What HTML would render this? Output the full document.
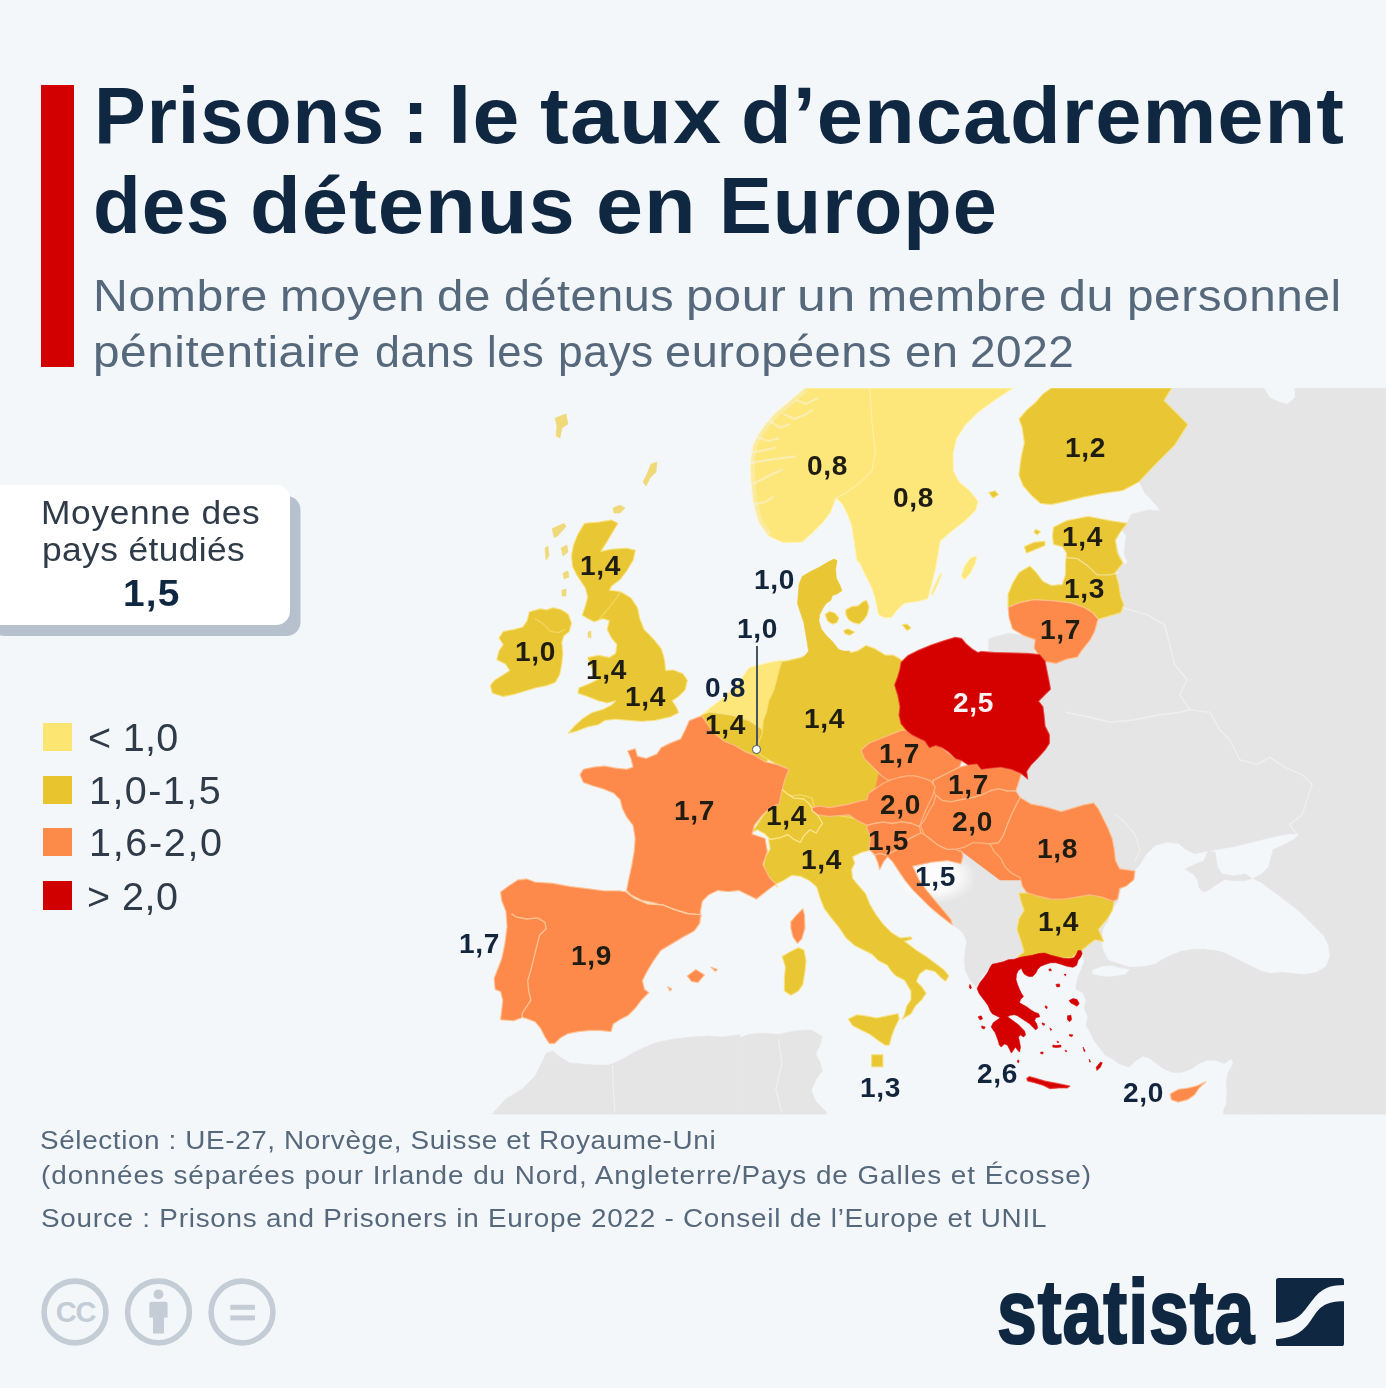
<!DOCTYPE html>
<html lang="fr">
<head>
<meta charset="utf-8">
<title>Prisons : le taux d'encadrement des détenus en Europe</title>
<style>
html,body{margin:0;padding:0;}
body{width:1386px;height:1388px;background:#f4f7fa;position:relative;overflow:hidden;font-family:"Liberation Sans",sans-serif;}
.abs{position:absolute;white-space:nowrap;transform-origin:0 0;}
#bar{position:absolute;left:41px;top:85px;width:33px;height:282px;background:#d20000;}
#map{position:absolute;left:0;top:0;width:1386px;height:1388px;filter:blur(0.55px);}
#avg{position:absolute;left:-20px;top:485px;width:310px;height:140px;background:#fff;border-radius:14px;box-shadow:10.5px 11px 0 #b7c1cd;}
.sq{position:absolute;left:43px;width:28.5px;height:28px;}
.lb{font-weight:bold;font-size:27px;line-height:27px;letter-spacing:0.6px;transform:scaleX(1.04);}
#map text{font-family:"Liberation Sans",sans-serif;font-weight:bold;font-size:26px;fill:#1c1c14;}
</style>
</head>
<body>
<svg id="map" viewBox="0 0 1386 1388">
<defs><clipPath id="mc"><rect x="0" y="388" width="1386" height="726.5"/></clipPath><radialGradient id="glow"><stop offset="0" stop-color="#fff" stop-opacity="0.95"/><stop offset="0.55" stop-color="#fff" stop-opacity="0.8"/><stop offset="1" stop-color="#fff" stop-opacity="0"/></radialGradient><linearGradient id="fade" x1="0" x2="1" y1="0" y2="0"><stop offset="0" stop-color="#f4f7fa" stop-opacity="1"/><stop offset="1" stop-color="#f4f7fa" stop-opacity="0"/></linearGradient></defs>
<g clip-path="url(#mc)">
<polygon points="1100,388 1100,470 1139.1,481.7 1144.5,492.6 1157.5,506.6 1159.7,511 1148.8,509.9 1131.5,514.2 1127.2,522.9 1118.5,531.5 1100,540 1070,640 1000,680 1000,800 1050,850 1060,930 1082.5,952.9 1084.2,961.6 1080.8,970.2 1077.3,978.9 1075.6,989.3 1082.5,992.7 1086,999.7 1084.2,1008.3 1087.7,1017 1086,1025.6 1090.3,1032.6 1094.6,1041.2 1099.8,1048.1 1105,1055.1 1111.9,1058.5 1118.9,1063.7 1129.3,1067.2 1136.2,1060.3 1143.1,1055.9 1150,1058.5 1157,1063.7 1163.9,1068.9 1172.6,1072.4 1181.2,1072.4 1191.6,1068.9 1198.5,1063.7 1207.2,1060.3 1215.8,1060.3 1224.5,1063.7 1231.4,1058.5 1233.2,1063.7 1228,1072.4 1226.2,1082.8 1227.1,1093.2 1226.2,1103.5 1223.6,1110.5 1223.6,1114.8 1386,1114.5 1386,388" fill="#e5e5e5" stroke="#e5e5e5" stroke-width="0.6" stroke-linejoin="round"/>
<polygon points="961.9,847.9 974.6,844.8 988.9,846.3 995.2,860.6 1003.2,868.6 1011.1,876.5 1020.6,881.3 1042.9,887.6 1042.9,951.1 1023.8,960.6 1011.1,958.3 1001.6,961 992.1,965.7 985.7,972.1 979.4,980 976.2,987.6 969.8,979.7 965.1,970.2 964.3,960.6 965.1,951.1 966.7,941.6 963.5,933.7 958.7,928.9 954,925.7 950.8,923.3 942.9,909.8 934.9,900.3 927,890.8 919,879.7 912.7,867 909.5,855.9 915.9,843.2 939.7,833.7 961.9,833.7" fill="#e5e5e5" stroke="#e5e5e5" stroke-width="0.6" stroke-linejoin="round"/>
<polygon points="988.7,638.7 1008.1,633.2 1023.3,635.4 1035.2,639.7 1034.1,648.4 1035.2,654.9 988.7,654.9" fill="#e5e5e5" stroke="#e5e5e5" stroke-width="0.6" stroke-linejoin="round"/>
<polygon points="491.9,1114.5 504.9,1099.7 522.3,1088.9 535.2,1075.9 541.7,1062.9 546.1,1053.2 552.6,1051 559,1056.5 569.9,1062.9 582.9,1064 595.8,1065.1 608.8,1065.1 619.7,1060.8 630.5,1054.3 643.5,1047.8 656.5,1042.4 673.8,1039.1 691.1,1037 708.4,1035.9 721.4,1037 740,1034.8 740,1114.5" fill="#e5e5e5" stroke="#e5e5e5" stroke-width="0.6" stroke-linejoin="round"/>
<polygon points="737.8,1038.6 748.7,1034.3 761.6,1033.2 779,1034.3 794.1,1031 811.4,1030 822.3,1036.5 820.1,1045.1 815.8,1053.8 820.1,1062.4 822.3,1071.1 815.8,1079.7 811.4,1090.6 815.8,1101.4 826.6,1112.2 826.6,1114.4 737.8,1114.4" fill="#e5e5e5" stroke="#e5e5e5" stroke-width="0.6" stroke-linejoin="round"/>
<polygon points="1263.5,386.5 1293.8,386.5 1294.9,397.3 1287.3,403.8 1278.6,401.6 1270,397.3" fill="#f4f7fa" stroke="#f4f7fa" stroke-width="0.6" stroke-linejoin="round"/>
<polygon points="1121.1,529.4 1125.5,535.8 1124.6,544.5 1123.3,553.2 1126.8,561.8 1124.6,564.4 1119.6,554.2 1116.4,541.3" fill="#f4f7fa" stroke="#f4f7fa" stroke-width="0.6" stroke-linejoin="round"/>
<polygon points="1139,866.9 1145.9,855.3 1155.2,846.1 1166.7,842.7 1178.2,843.8 1185.1,849.6 1194.4,854.2 1205.9,851.9 1219.7,849.6 1233.6,847.3 1247.4,843.8 1261.2,840.4 1275.1,836.9 1288.9,834.6 1298.1,834.6 1293.5,839.2 1282,845 1272.8,849.6 1270.5,857.6 1268.2,866.9 1261.2,873.8 1252,878.4 1261.2,883 1270.5,889.9 1279.7,896.8 1288.9,903.8 1298.1,910.7 1307.4,919.9 1316.6,929.1 1323.5,936 1328.1,945.3 1329.3,956.8 1325.8,966 1316.6,971.8 1305,974.1 1293.5,972.9 1282,971.8 1270.5,972.9 1261.2,970.6 1252,966 1242.8,961.4 1233.6,956.8 1224.3,952.2 1215.1,949.9 1203.6,948.7 1192.1,948.7 1180.5,951 1171.3,954.5 1162.1,959.1 1155.2,963.7 1143.6,966 1129.8,966.7 1119,963.2 1108.6,959.8 1103.3,949.9 1102.1,942.5 1103.3,929.1 1109.1,919.9 1111.4,910.7 1118.3,901.5 1120.6,892.2 1125.2,880.7 1135.6,876.1 1135.6,869.2" fill="#f4f7fa" stroke="#f4f7fa" stroke-width="0.6" stroke-linejoin="round"/>
<polygon points="1092.9,970.2 1101.6,966.8 1111.9,965.9 1120.6,968.5 1129.3,969.4 1125.8,973.7 1117.1,975.4 1108.5,976.3 1099.8,975.4 1092.9,973.7" fill="#f4f7fa" stroke="#f4f7fa" stroke-width="0.6" stroke-linejoin="round"/>
<polygon points="1185.1,869.2 1194.4,864.6 1203.6,861.1 1208.2,850.7 1215.1,851.9 1217.4,866.9 1222,873.8 1233.6,876.1 1245.1,873.8 1252,878.4 1245.1,880.7 1233.6,880.7 1224.3,879.5 1217.4,884.2 1210.5,888.8 1203.6,892.2 1199,887.6 1197.8,880.7 1194.4,874.9" fill="#e5e5e5" stroke="#e5e5e5" stroke-width="0.6" stroke-linejoin="round"/>
<polygon points="770,720 860,700 900,760 870,810 860,850 800,870 775,850 765,810 775,770" fill="#e9c634" stroke="#e9c634" stroke-width="0.6" stroke-linejoin="round"/>
<ellipse cx="936" cy="877" rx="40" ry="27" fill="url(#glow)"/>
<polygon points="804.9,388 795.2,396.2 786.5,403.8 775.7,412.5 766,423.3 758.4,434.1 753,444.9 750.8,457.9 750.4,470.9 751.3,486.1 753,501.2 756.2,514.2 759.5,523.9 768.1,535.8 783.3,542.8 798.4,542.3 802.3,542.1 812.5,533 822.9,522.6 830.7,512.3 835.9,498 842.4,504.5 847.6,514.8 851.5,525.2 854.1,542.1 856.7,560.1 860.1,564 865.5,575.9 870.3,584.5 874.6,596.5 876.8,607.3 878.5,614.8 883.9,617.7 891.5,617.7 896.9,610.5 904.5,603.4 919.7,601.2 927.9,598.6 930.5,588.9 933.3,578.1 936.1,566.1 938.3,553.2 940.4,541.3 951,531.9 965.1,521.1 975.9,510.3 978.1,501.2 969.9,490.8 959,481.7 953.6,470.9 953.2,453.6 956.5,438.9 965.1,425.5 978.1,412.5 995.4,399.9 1013.2,388" fill="#fde67a" stroke="#fde67a" stroke-width="0.6" stroke-linejoin="round"/>
<polygon points="804.9,388 795.2,396.2 786.5,403.8 775.7,412.5 766,423.3 758.4,434.1 753,444.9 750.8,457.9 750.4,470.9 751.3,486.1 753,501.2 756.2,514.2 759.5,523.9 768.1,535.8 783.3,542.8 798.4,542.3 802.3,542.1 812.5,533 822.9,522.6 830.7,512.3 835.9,498 842.4,504.5 847.6,514.8 851.5,525.2 854.1,542.1 856.7,560.1 860.1,564 865.5,575.9 870.3,584.5 874.6,596.5 876.8,607.3 878.5,614.8 883.9,617.7 891.5,617.7 896.9,610.5 904.5,603.4 919.7,601.2 927.9,598.6 930.5,588.9 933.3,578.1 936.1,566.1 938.3,553.2 940.4,541.3 951,531.9 965.1,521.1 975.9,510.3 978.1,501.2 969.9,490.8 959,481.7 953.6,470.9 953.2,453.6 956.5,438.9 965.1,425.5 978.1,412.5 995.4,399.9 1013.2,388" fill="none" stroke="rgba(255,250,215,0.55)" stroke-width="1.3" stroke-linejoin="round"/>
<polygon points="961,576.5 964.1,567 970.5,557.5 976.8,555.9 975.2,563.8 970.5,573.3 964.9,579.7" fill="#fde67a" stroke="#fde67a" stroke-width="0.6" stroke-linejoin="round"/>
<polygon points="961,576.5 964.1,567 970.5,557.5 976.8,555.9 975.2,563.8 970.5,573.3 964.9,579.7" fill="none" stroke="rgba(255,250,215,0.55)" stroke-width="1.3" stroke-linejoin="round"/>
<polygon points="930.8,594 935.6,582.9 940.3,573.3 941.9,574.1 937.1,586 932.4,595.6" fill="#fde67a" stroke="#fde67a" stroke-width="0.6" stroke-linejoin="round"/>
<polygon points="930.8,594 935.6,582.9 940.3,573.3 941.9,574.1 937.1,586 932.4,595.6" fill="none" stroke="rgba(255,250,215,0.55)" stroke-width="1.3" stroke-linejoin="round"/>
<polygon points="703.1,713.6 711.7,706.4 723.3,697.7 737.7,683.3 746.4,671 749.3,667.4 760.8,664.5 772.4,661.6 783.9,660.2 783.9,683.3 773.8,700.6 766.6,715 766.6,732.4 758.6,732.4 757.9,726.6 749.3,720.8 740.6,717.9 730.5,715 720.4,713.6 708.9,712.2" fill="#fde67a" stroke="#fde67a" stroke-width="0.6" stroke-linejoin="round"/>
<polygon points="703.1,713.6 711.7,706.4 723.3,697.7 737.7,683.3 746.4,671 749.3,667.4 760.8,664.5 772.4,661.6 783.9,660.2 783.9,683.3 773.8,700.6 766.6,715 766.6,732.4 758.6,732.4 757.9,726.6 749.3,720.8 740.6,717.9 730.5,715 720.4,713.6 708.9,712.2" fill="none" stroke="rgba(255,250,215,0.55)" stroke-width="1.3" stroke-linejoin="round"/>
<polygon points="701.6,715 708.9,712.2 720.4,713.6 730.5,715 740.6,717.9 749.3,720.8 757.9,726.6 766.6,732.4 769.5,755.4 766.6,762.7 755,759.8 737.7,752.6 723.3,743.9 708.9,732.4 703.1,722.3" fill="#e9c634" stroke="#e9c634" stroke-width="0.6" stroke-linejoin="round"/>
<polygon points="701.6,715 708.9,712.2 720.4,713.6 730.5,715 740.6,717.9 749.3,720.8 757.9,726.6 766.6,732.4 769.5,755.4 766.6,762.7 755,759.8 737.7,752.6 723.3,743.9 708.9,732.4 703.1,722.3" fill="none" stroke="rgba(255,240,160,0.5)" stroke-width="1.3" stroke-linejoin="round"/>
<polygon points="809.9,653.1 801.2,657.4 788.2,660.6 781.7,661.7 779.6,668.2 777.4,676.9 775.2,685.5 773.1,692 768.7,700.7 766.6,711.5 763.3,720.2 762.3,733.2 757.9,744 760.1,754.8 770.9,761.3 786.1,767.8 781.7,778.6 779.6,789.4 778.5,798.1 788.2,795.9 801.2,794.8 812,798.1 814.2,806.8 827.2,808.9 840.2,806.8 853.2,808.9 874.8,811.1 896.5,776.5 907.3,733.2 907.3,663.9 897.5,657.4 893.2,655.2 885.6,655.2 874.8,648.7 866.1,645.5 857.5,650.9 848.8,653.1 842.3,655.2 840.2,650.9" fill="#e9c634" stroke="#e9c634" stroke-width="0.6" stroke-linejoin="round"/>
<polygon points="809.9,653.1 801.2,657.4 788.2,660.6 781.7,661.7 779.6,668.2 777.4,676.9 775.2,685.5 773.1,692 768.7,700.7 766.6,711.5 763.3,720.2 762.3,733.2 757.9,744 760.1,754.8 770.9,761.3 786.1,767.8 781.7,778.6 779.6,789.4 778.5,798.1 788.2,795.9 801.2,794.8 812,798.1 814.2,806.8 827.2,808.9 840.2,806.8 853.2,808.9 874.8,811.1 896.5,776.5 907.3,733.2 907.3,663.9 897.5,657.4 893.2,655.2 885.6,655.2 874.8,648.7 866.1,645.5 857.5,650.9 848.8,653.1 842.3,655.2 840.2,650.9" fill="none" stroke="rgba(255,240,160,0.5)" stroke-width="1.3" stroke-linejoin="round"/>
<polygon points="869.4,848.9 871.7,831.4 867,820.3 819.4,812.4 787.6,823.5 768.6,839.4 770.2,848.9 765.4,856.8 763.8,864.8 766.2,874.3 771.7,882.2 777.3,887 775.9,884.1 783.3,880.6 791.9,875.2 800.6,876.3 809.3,880.6 816.8,887.1 820.1,897.9 824.4,908.7 830.9,917.4 839.6,928.2 846.1,938 854.7,945.5 863.4,949.9 872,954.2 878.5,960.7 887.2,965 891.5,971.5 895.8,975.8 904.5,980.2 911,991 911,999.7 906.7,1006.1 904.5,1014.8 902.3,1019.1 911,1013.7 915.3,1006.1 921.8,999.7 926.1,993.2 921.8,986.7 916.4,981.3 919.7,973.7 926.1,969.4 934.8,971.5 941.3,978 945.6,981.3 948.9,975.8 943.5,969.4 934.8,962.9 926.1,956.4 917.5,951 908.8,944.5 904.5,941.2 912.1,939 911,936.9 900.2,938 891.5,932.6 882.9,923.9 876.4,915.2 869.9,904.4 865.5,893.6 858,884.9 852.6,878.4 851.5,869.8 854.7,863.3 852.6,856.8 861.2,852.5 869.9,850.3" fill="#e9c634" stroke="#e9c634" stroke-width="0.6" stroke-linejoin="round"/>
<polygon points="869.4,848.9 871.7,831.4 867,820.3 819.4,812.4 787.6,823.5 768.6,839.4 770.2,848.9 765.4,856.8 763.8,864.8 766.2,874.3 771.7,882.2 777.3,887 775.9,884.1 783.3,880.6 791.9,875.2 800.6,876.3 809.3,880.6 816.8,887.1 820.1,897.9 824.4,908.7 830.9,917.4 839.6,928.2 846.1,938 854.7,945.5 863.4,949.9 872,954.2 878.5,960.7 887.2,965 891.5,971.5 895.8,975.8 904.5,980.2 911,991 911,999.7 906.7,1006.1 904.5,1014.8 902.3,1019.1 911,1013.7 915.3,1006.1 921.8,999.7 926.1,993.2 921.8,986.7 916.4,981.3 919.7,973.7 926.1,969.4 934.8,971.5 941.3,978 945.6,981.3 948.9,975.8 943.5,969.4 934.8,962.9 926.1,956.4 917.5,951 908.8,944.5 904.5,941.2 912.1,939 911,936.9 900.2,938 891.5,932.6 882.9,923.9 876.4,915.2 869.9,904.4 865.5,893.6 858,884.9 852.6,878.4 851.5,869.8 854.7,863.3 852.6,856.8 861.2,852.5 869.9,850.3" fill="none" stroke="rgba(255,240,160,0.5)" stroke-width="1.3" stroke-linejoin="round"/>
<polygon points="1051.4,388 1171.6,388 1164,400.6 1187.8,424.4 1174.8,444.9 1153.2,466.6 1139.1,481.7 1122.9,490.4 1101.2,493.6 1083.9,496.9 1066.6,501.2 1051.4,504.5 1040.6,503.4 1031.9,495.8 1023.3,486.1 1019,475.2 1021.1,457.9 1024.4,442.8 1022.2,427.6 1019,419 1026.5,410.3 1035.2,402.7 1042.8,394.1" fill="#e9c634" stroke="#e9c634" stroke-width="0.6" stroke-linejoin="round"/>
<polygon points="1051.4,388 1171.6,388 1164,400.6 1187.8,424.4 1174.8,444.9 1153.2,466.6 1139.1,481.7 1122.9,490.4 1101.2,493.6 1083.9,496.9 1066.6,501.2 1051.4,504.5 1040.6,503.4 1031.9,495.8 1023.3,486.1 1019,475.2 1021.1,457.9 1024.4,442.8 1022.2,427.6 1019,419 1026.5,410.3 1035.2,402.7 1042.8,394.1" fill="none" stroke="rgba(255,240,160,0.5)" stroke-width="1.3" stroke-linejoin="round"/>
<polygon points="988.7,492.6 995.2,490.8 998.4,494.7 993,498" fill="#e9c634" stroke="#e9c634" stroke-width="0.6" stroke-linejoin="round"/>
<polygon points="988.7,492.6 995.2,490.8 998.4,494.7 993,498" fill="none" stroke="rgba(255,240,160,0.5)" stroke-width="1.3" stroke-linejoin="round"/>
<polygon points="1053.6,527.2 1066.6,520.7 1088.2,516.4 1109.9,520.7 1127.2,523.3 1120.7,531.5 1115.3,540.2 1117.4,553.2 1122.9,562.9 1115.3,572.6 1118.5,583.5 1120.7,596.5 1123.9,605.1 1120.7,612.7 1109.9,615.9 1098,619.2 1092.6,612.7 1083.9,607.3 1070.9,602.9 1053.6,600.8 1034.1,599.7 1019,602.9 1008.1,607.3 1008.1,594.3 1012.5,583.5 1019,572.6 1029.8,566.1 1036.3,572.6 1042.8,581.3 1051.4,585.6 1062.3,584.5 1065.5,574.8 1065.5,564 1066.6,553.2 1062.3,546.7 1053.6,544.5 1052.5,535.8" fill="#e9c634" stroke="#e9c634" stroke-width="0.6" stroke-linejoin="round"/>
<polygon points="1053.6,527.2 1066.6,520.7 1088.2,516.4 1109.9,520.7 1127.2,523.3 1120.7,531.5 1115.3,540.2 1117.4,553.2 1122.9,562.9 1115.3,572.6 1118.5,583.5 1120.7,596.5 1123.9,605.1 1120.7,612.7 1109.9,615.9 1098,619.2 1092.6,612.7 1083.9,607.3 1070.9,602.9 1053.6,600.8 1034.1,599.7 1019,602.9 1008.1,607.3 1008.1,594.3 1012.5,583.5 1019,572.6 1029.8,566.1 1036.3,572.6 1042.8,581.3 1051.4,585.6 1062.3,584.5 1065.5,574.8 1065.5,564 1066.6,553.2 1062.3,546.7 1053.6,544.5 1052.5,535.8" fill="none" stroke="rgba(255,240,160,0.5)" stroke-width="1.3" stroke-linejoin="round"/>
<polygon points="1024.4,546.7 1034.1,542.3 1044.9,541.3 1044.9,545.6 1034.1,549.9 1026.5,553.2" fill="#e9c634" stroke="#e9c634" stroke-width="0.6" stroke-linejoin="round"/>
<polygon points="1024.4,546.7 1034.1,542.3 1044.9,541.3 1044.9,545.6 1034.1,549.9 1026.5,553.2" fill="none" stroke="rgba(255,240,160,0.5)" stroke-width="1.3" stroke-linejoin="round"/>
<polygon points="1035.2,529.4 1040.6,531.5 1037.4,534.8 1034.1,532.6" fill="#e9c634" stroke="#e9c634" stroke-width="0.6" stroke-linejoin="round"/>
<polygon points="1035.2,529.4 1040.6,531.5 1037.4,534.8 1034.1,532.6" fill="none" stroke="rgba(255,240,160,0.5)" stroke-width="1.3" stroke-linejoin="round"/>
<polygon points="584.5,523.3 598.5,522.2 611.5,520 618,523.3 611.5,534.1 605,544.9 600.7,551.4 611.5,549.3 626.7,548.2 635.3,550.3 633.2,560.1 626.7,570.9 620.2,579.6 611.5,586.1 609.4,590.4 620.2,591.5 631,598 637.5,607.7 639.7,618.5 644,629.4 652.6,638 661.3,648.8 664.5,659.7 665.6,670.5 673.2,670 682.9,673.7 687.3,680.2 685.1,690 678.6,696.5 672.1,700.8 676.5,707.3 678.6,712.7 670,717 654.8,720.3 641.8,721.3 628.8,720.3 615.8,719.2 605,720.3 598.5,724.6 587.7,726.8 576.9,731.1 568.2,733.2 574.7,725.7 583.4,718.1 592,712.7 602.9,709.4 611.5,705.1 615.8,700.8 607.2,702.9 598.5,700.8 587.7,696.5 578,693.2 579,687.8 589.9,683.5 598.5,679.1 594.2,672.6 589.9,664 587.7,657.5 598.5,655.3 609.4,657.5 615.8,653.2 616.9,644.5 611.5,638 607.2,629.4 609.4,620.7 602.9,618.5 594.2,621.8 587.7,618.5 582.3,615.3 585.5,605.5 587.7,596.9 585.5,588.2 581.2,581.7 576.9,575.2 572.6,566.6 571.5,555.8 573.6,544.9 578,534.1" fill="#e9c634" stroke="#e9c634" stroke-width="0.6" stroke-linejoin="round"/>
<polygon points="584.5,523.3 598.5,522.2 611.5,520 618,523.3 611.5,534.1 605,544.9 600.7,551.4 611.5,549.3 626.7,548.2 635.3,550.3 633.2,560.1 626.7,570.9 620.2,579.6 611.5,586.1 609.4,590.4 620.2,591.5 631,598 637.5,607.7 639.7,618.5 644,629.4 652.6,638 661.3,648.8 664.5,659.7 665.6,670.5 673.2,670 682.9,673.7 687.3,680.2 685.1,690 678.6,696.5 672.1,700.8 676.5,707.3 678.6,712.7 670,717 654.8,720.3 641.8,721.3 628.8,720.3 615.8,719.2 605,720.3 598.5,724.6 587.7,726.8 576.9,731.1 568.2,733.2 574.7,725.7 583.4,718.1 592,712.7 602.9,709.4 611.5,705.1 615.8,700.8 607.2,702.9 598.5,700.8 587.7,696.5 578,693.2 579,687.8 589.9,683.5 598.5,679.1 594.2,672.6 589.9,664 587.7,657.5 598.5,655.3 609.4,657.5 615.8,653.2 616.9,644.5 611.5,638 607.2,629.4 609.4,620.7 602.9,618.5 594.2,621.8 587.7,618.5 582.3,615.3 585.5,605.5 587.7,596.9 585.5,588.2 581.2,581.7 576.9,575.2 572.6,566.6 571.5,555.8 573.6,544.9 578,534.1" fill="none" stroke="rgba(255,240,160,0.5)" stroke-width="1.3" stroke-linejoin="round"/>
<polygon points="529.3,612 540.1,608.8 546.6,609.9 553.1,607.7 561.7,609.9 568.2,614.2 571.5,622.9 569.3,631.5 563.9,635.8 561.7,642.3 562.8,653.2 561.7,664 559.6,674.8 555.2,682.4 546.6,685.6 535.8,687.8 524.9,691 514.1,694.3 503.3,696.5 492.5,693.2 490.3,685.6 494.6,680.2 503.3,674.8 509.8,670.5 505.5,664 496.8,659.7 499,651 503.3,644.5 499,638 503.3,631.5 514.1,629.4 522.8,627.2 527.1,620.7" fill="#e9c634" stroke="#e9c634" stroke-width="0.6" stroke-linejoin="round"/>
<polygon points="529.3,612 540.1,608.8 546.6,609.9 553.1,607.7 561.7,609.9 568.2,614.2 571.5,622.9 569.3,631.5 563.9,635.8 561.7,642.3 562.8,653.2 561.7,664 559.6,674.8 555.2,682.4 546.6,685.6 535.8,687.8 524.9,691 514.1,694.3 503.3,696.5 492.5,693.2 490.3,685.6 494.6,680.2 503.3,674.8 509.8,670.5 505.5,664 496.8,659.7 499,651 503.3,644.5 499,638 503.3,631.5 514.1,629.4 522.8,627.2 527.1,620.7" fill="none" stroke="rgba(255,240,160,0.5)" stroke-width="1.3" stroke-linejoin="round"/>
<polygon points="552,528.7 563.9,523.3 566.1,526.5 557.4,536.3 554.2,537.4" fill="#efd978" stroke="#efd978" stroke-width="0.6" stroke-linejoin="round"/>
<polygon points="555,418 566,414 568,424 562,428 560,438 556,436 557,426" fill="#efd978" stroke="#efd978" stroke-width="0.6" stroke-linejoin="round"/>
<polygon points="651,464 657,462 656,472 650,478 646,486 643,482 647,474" fill="#efd978" stroke="#efd978" stroke-width="0.6" stroke-linejoin="round"/>
<polygon points="613,508 620,505 625,508 620,513 614,513" fill="#efd978" stroke="#efd978" stroke-width="0.6" stroke-linejoin="round"/>
<polygon points="545,548 548,546 549,556 546,560" fill="#efd978" stroke="#efd978" stroke-width="0.6" stroke-linejoin="round"/>
<polygon points="561,548 567,545 568,552 563,556" fill="#efd978" stroke="#efd978" stroke-width="0.6" stroke-linejoin="round"/>
<polygon points="563,573 568,571 569,577 564,579" fill="#efd978" stroke="#efd978" stroke-width="0.6" stroke-linejoin="round"/>
<polygon points="562,590 566,589 566,596 562,596" fill="#efd978" stroke="#efd978" stroke-width="0.6" stroke-linejoin="round"/>
<polygon points="588,632 591,631 591,638 588,637" fill="#efd978" stroke="#efd978" stroke-width="0.6" stroke-linejoin="round"/>
<polygon points="827.6,562.2 834,559 837.1,560.6 835.6,568.6 836.3,578.1 840.3,586 841.9,590.8 837.1,594 832.4,595.6 830.8,600.3 826,603.5 822.9,608.3 819.7,614.6 818.9,621 821.3,628.9 826,635.2 832.4,641.6 838.7,649.5 843.5,651.1 849.8,651.1 849.8,660.6 803.8,660.6 803.8,657.5 808.6,651.1 807,641.6 805.4,632.1 803.8,622.5 800.6,613 797.5,603.5 798.3,594 799,584.4 802.2,576.5 810.2,571.7 819.7,567" fill="#e9c634" stroke="#e9c634" stroke-width="0.6" stroke-linejoin="round"/>
<polygon points="825.2,614.6 829.2,611.4 834.8,613 838.7,617.8 837.1,622.5 832.4,624.1 827.6,621" fill="#e9c634" stroke="#e9c634" stroke-width="0.6" stroke-linejoin="round"/>
<polygon points="825.2,614.6 829.2,611.4 834.8,613 838.7,617.8 837.1,622.5 832.4,624.1 827.6,621" fill="none" stroke="rgba(255,240,160,0.5)" stroke-width="1.3" stroke-linejoin="round"/>
<polygon points="845.9,609.8 851.4,606.7 857.8,605.9 862.5,601.9 866.5,600.3 868.9,606.7 867.3,614.6 864.1,619.4 859.4,624.1 853,622.5 848.3,619.4 845.9,614.6" fill="#e9c634" stroke="#e9c634" stroke-width="0.6" stroke-linejoin="round"/>
<polygon points="845.9,609.8 851.4,606.7 857.8,605.9 862.5,601.9 866.5,600.3 868.9,606.7 867.3,614.6 864.1,619.4 859.4,624.1 853,622.5 848.3,619.4 845.9,614.6" fill="none" stroke="rgba(255,240,160,0.5)" stroke-width="1.3" stroke-linejoin="round"/>
<polygon points="843.5,630.5 848.3,628.9 854.6,632.1 849.8,635.2 845.1,633.7" fill="#e9c634" stroke="#e9c634" stroke-width="0.6" stroke-linejoin="round"/>
<polygon points="843.5,630.5 848.3,628.9 854.6,632.1 849.8,635.2 845.1,633.7" fill="none" stroke="rgba(255,240,160,0.5)" stroke-width="1.3" stroke-linejoin="round"/>
<polygon points="902.2,624.9 907,624.1 911,628.1 907,630.5" fill="#e9c634" stroke="#e9c634" stroke-width="0.6" stroke-linejoin="round"/>
<polygon points="902.2,624.9 907,624.1 911,628.1 907,630.5" fill="none" stroke="rgba(255,240,160,0.5)" stroke-width="1.3" stroke-linejoin="round"/>
<polygon points="751.9,832.2 755.9,826.7 762.2,817.1 770.2,807.6 778.1,798.1 782.1,789.4 787.6,794.1 794,798.1 803.5,798.9 808.3,802.9 812.2,807.6 812.2,810.8 817.8,815.2 822.5,823.5 819.4,827.5 816.2,833 809.8,829.8 803.5,836.2 800.3,842.5 794,839.4 787.6,834.6 779.7,837.8 770.2,839.4 763.8,833.3 757.5,829.8" fill="#e9c634" stroke="#e9c634" stroke-width="0.6" stroke-linejoin="round"/>
<polygon points="751.9,832.2 755.9,826.7 762.2,817.1 770.2,807.6 778.1,798.1 782.1,789.4 787.6,794.1 794,798.1 803.5,798.9 808.3,802.9 812.2,807.6 812.2,810.8 817.8,815.2 822.5,823.5 819.4,827.5 816.2,833 809.8,829.8 803.5,836.2 800.3,842.5 794,839.4 787.6,834.6 779.7,837.8 770.2,839.4 763.8,833.3 757.5,829.8" fill="none" stroke="rgba(255,240,160,0.5)" stroke-width="1.3" stroke-linejoin="round"/>
<polygon points="848.2,1019.1 856.9,1014.8 865.5,1015.9 876.4,1018.1 887.2,1015.9 898,1013.7 899.1,1019.1 894.8,1027.8 891.5,1036.5 889.4,1045.1 885,1045.1 878.5,1040.8 869.9,1034.3 861.2,1030 852.6,1025.6" fill="#e9c634" stroke="#e9c634" stroke-width="0.6" stroke-linejoin="round"/>
<polygon points="848.2,1019.1 856.9,1014.8 865.5,1015.9 876.4,1018.1 887.2,1015.9 898,1013.7 899.1,1019.1 894.8,1027.8 891.5,1036.5 889.4,1045.1 885,1045.1 878.5,1040.8 869.9,1034.3 861.2,1030 852.6,1025.6" fill="none" stroke="rgba(255,240,160,0.5)" stroke-width="1.3" stroke-linejoin="round"/>
<polygon points="871.6,1054.8 882.9,1054.8 882.9,1066.8 871.6,1066.8" fill="#e9c634" stroke="#e9c634" stroke-width="0.6" stroke-linejoin="round"/>
<polygon points="871.6,1054.8 882.9,1054.8 882.9,1066.8 871.6,1066.8" fill="none" stroke="rgba(255,240,160,0.5)" stroke-width="1.3" stroke-linejoin="round"/>
<polygon points="782.2,956.4 789.8,952 798.4,947.7 803.9,949.9 806,960.7 804.9,971.5 802.8,984.5 798.4,991 790.9,995.3 784.4,991 784.4,978 785.5,967.2" fill="#e9c634" stroke="#e9c634" stroke-width="0.6" stroke-linejoin="round"/>
<polygon points="782.2,956.4 789.8,952 798.4,947.7 803.9,949.9 806,960.7 804.9,971.5 802.8,984.5 798.4,991 790.9,995.3 784.4,991 784.4,978 785.5,967.2" fill="none" stroke="rgba(255,240,160,0.5)" stroke-width="1.3" stroke-linejoin="round"/>
<polygon points="1018.9,893.1 1115.8,893.1 1112.4,910.4 1107.2,919 1098.5,929.4 1103.7,941.6 1095.1,939.8 1088.1,945 1081.2,951.1 1070.8,958 1017.1,957.1 1024.1,951.9 1020.6,939.8 1017.1,929.4 1018.9,919 1024.1,910.4 1020.6,900" fill="#e9c634" stroke="#e9c634" stroke-width="0.6" stroke-linejoin="round"/>
<polygon points="1018.9,893.1 1115.8,893.1 1112.4,910.4 1107.2,919 1098.5,929.4 1103.7,941.6 1095.1,939.8 1088.1,945 1081.2,951.1 1070.8,958 1017.1,957.1 1024.1,951.9 1020.6,939.8 1017.1,929.4 1018.9,919 1024.1,910.4 1020.6,900" fill="none" stroke="rgba(255,240,160,0.5)" stroke-width="1.3" stroke-linejoin="round"/>
<polygon points="880,770 930,760 990,775 1010,800 1030,830 1060,830 1060,880 1000,880 960,850 930,850 890,840 870,815 875,790" fill="#fd8a4a" stroke="#fd8a4a" stroke-width="0.6" stroke-linejoin="round"/>
<polygon points="689.4,720.6 701.7,715.8 713.2,732.5 724,741.1 734.8,745.5 745.6,751.9 754.3,755.2 765.1,761.7 778.1,764.9 788.9,769.3 784.6,780.1 781.3,793.1 779.2,803.9 769.4,808.2 760.8,816.9 754.3,825.5 752.1,834.2 765.1,838.5 767.3,851.5 762.9,864.5 769.4,877.5 775.9,884 767.3,890.5 756.5,899.1 747.8,894.8 739.1,890.5 728.3,891.6 717.5,890.5 708.8,894.8 702.3,901.3 700.2,912.1 701.3,916.5 691.5,914.3 680.7,911 669.9,907.8 656.9,903.5 641.7,900.2 630.9,894.8 626.6,890.5 628.7,879.7 632,864.5 634.2,851.5 635.2,838.5 633.1,825.5 626.6,816.9 622.3,808.2 620.1,799.6 613.6,793.1 602.8,788.7 591.9,785.5 583.3,782.3 580,774.7 583.3,769.3 594.1,767.1 604.9,766 615.8,768.2 626.6,769.3 633.1,767.1 630.9,758.4 627.7,750.9 635.2,748.7 637.4,756.3 646.1,758.4 656.9,754.1 661.2,747.6 669.9,743.3 680.7,739 685,730.3" fill="#fd8a4a" stroke="#fd8a4a" stroke-width="0.6" stroke-linejoin="round"/>
<polygon points="689.4,720.6 701.7,715.8 713.2,732.5 724,741.1 734.8,745.5 745.6,751.9 754.3,755.2 765.1,761.7 778.1,764.9 788.9,769.3 784.6,780.1 781.3,793.1 779.2,803.9 769.4,808.2 760.8,816.9 754.3,825.5 752.1,834.2 765.1,838.5 767.3,851.5 762.9,864.5 769.4,877.5 775.9,884 767.3,890.5 756.5,899.1 747.8,894.8 739.1,890.5 728.3,891.6 717.5,890.5 708.8,894.8 702.3,901.3 700.2,912.1 701.3,916.5 691.5,914.3 680.7,911 669.9,907.8 656.9,903.5 641.7,900.2 630.9,894.8 626.6,890.5 628.7,879.7 632,864.5 634.2,851.5 635.2,838.5 633.1,825.5 626.6,816.9 622.3,808.2 620.1,799.6 613.6,793.1 602.8,788.7 591.9,785.5 583.3,782.3 580,774.7 583.3,769.3 594.1,767.1 604.9,766 615.8,768.2 626.6,769.3 633.1,767.1 630.9,758.4 627.7,750.9 635.2,748.7 637.4,756.3 646.1,758.4 656.9,754.1 661.2,747.6 669.9,743.3 680.7,739 685,730.3" fill="none" stroke="rgba(255,215,175,0.55)" stroke-width="1.3" stroke-linejoin="round"/>
<polygon points="790.9,921.7 796.3,915.2 802.8,908.7 804.5,915.2 804.9,928.2 801.7,939 797.4,943.4 793,936.9 790.9,928.2" fill="#fd8a4a" stroke="#fd8a4a" stroke-width="0.6" stroke-linejoin="round"/>
<polygon points="790.9,921.7 796.3,915.2 802.8,908.7 804.5,915.2 804.9,928.2 801.7,939 797.4,943.4 793,936.9 790.9,928.2" fill="none" stroke="rgba(255,215,175,0.55)" stroke-width="1.3" stroke-linejoin="round"/>
<polygon points="500.6,891.9 509.3,885.5 517.9,880 526.6,879 535.2,882.2 552.6,883.3 569.9,886.5 587.2,888.7 604.5,890.9 619.7,890.9 626.1,891.9 634.8,898.4 647.8,903.9 662.9,904.9 673.8,909.3 686.8,913.6 700.8,914.7 699.7,923.3 694.3,930.9 682.4,937.4 671.6,943.9 660.8,950.4 653.2,961.2 646.7,972 642.4,980.7 644.5,989.4 648.9,992.6 641.3,1000.2 634.8,1008.8 628.3,1015.3 619.7,1019.7 613.2,1024 611,1031.6 600.2,1030.5 589.4,1030.5 578.5,1031.6 567.7,1033.7 560.1,1038.1 554.7,1043.5 549.3,1043.5 545,1037 540.6,1028.3 535.2,1021.8 526.6,1018.6 522.3,1017.5 513.6,1020.7 500.6,1019.7 501.7,1011 502.8,1000.2 500.6,991.5 495.2,989.4 494.1,978.5 497.4,969.9 501.7,959 504.9,943.9 507.1,926.6 506,911.4 501.7,900.6" fill="#fd8a4a" stroke="#fd8a4a" stroke-width="0.6" stroke-linejoin="round"/>
<polygon points="500.6,891.9 509.3,885.5 517.9,880 526.6,879 535.2,882.2 552.6,883.3 569.9,886.5 587.2,888.7 604.5,890.9 619.7,890.9 626.1,891.9 634.8,898.4 647.8,903.9 662.9,904.9 673.8,909.3 686.8,913.6 700.8,914.7 699.7,923.3 694.3,930.9 682.4,937.4 671.6,943.9 660.8,950.4 653.2,961.2 646.7,972 642.4,980.7 644.5,989.4 648.9,992.6 641.3,1000.2 634.8,1008.8 628.3,1015.3 619.7,1019.7 613.2,1024 611,1031.6 600.2,1030.5 589.4,1030.5 578.5,1031.6 567.7,1033.7 560.1,1038.1 554.7,1043.5 549.3,1043.5 545,1037 540.6,1028.3 535.2,1021.8 526.6,1018.6 522.3,1017.5 513.6,1020.7 500.6,1019.7 501.7,1011 502.8,1000.2 500.6,991.5 495.2,989.4 494.1,978.5 497.4,969.9 501.7,959 504.9,943.9 507.1,926.6 506,911.4 501.7,900.6" fill="none" stroke="rgba(255,215,175,0.55)" stroke-width="1.3" stroke-linejoin="round"/>
<polygon points="687.2,976 695.8,969.5 704.5,974.9 698,982.5 691.5,981.4" fill="#fd8a4a" stroke="#fd8a4a" stroke-width="0.6" stroke-linejoin="round"/>
<polygon points="687.2,976 695.8,969.5 704.5,974.9 698,982.5 691.5,981.4" fill="none" stroke="rgba(255,215,175,0.55)" stroke-width="1.3" stroke-linejoin="round"/>
<polygon points="711,967.3 717.5,969.5 715.3,971.6" fill="#fd8a4a" stroke="#fd8a4a" stroke-width="0.6" stroke-linejoin="round"/>
<polygon points="711,967.3 717.5,969.5 715.3,971.6" fill="none" stroke="rgba(255,215,175,0.55)" stroke-width="1.3" stroke-linejoin="round"/>
<polygon points="667.7,986.8 672,989 669.9,991.1" fill="#fd8a4a" stroke="#fd8a4a" stroke-width="0.6" stroke-linejoin="round"/>
<polygon points="667.7,986.8 672,989 669.9,991.1" fill="none" stroke="rgba(255,215,175,0.55)" stroke-width="1.3" stroke-linejoin="round"/>
<polygon points="1008.1,607.3 1019,602.9 1034.1,599.7 1053.6,600.8 1070.9,602.9 1083.9,607.3 1092.6,612.7 1098,619.2 1094.7,631.1 1090.4,639.7 1081.7,650.6 1077.4,657.1 1066.6,659.2 1055.8,663.5 1044.9,661.4 1038.4,654.9 1034.1,648.4 1035.2,639.7 1023.3,635.4 1012.5,628.9 1009.2,618.1" fill="#fd8a4a" stroke="#fd8a4a" stroke-width="0.6" stroke-linejoin="round"/>
<polygon points="1008.1,607.3 1019,602.9 1034.1,599.7 1053.6,600.8 1070.9,602.9 1083.9,607.3 1092.6,612.7 1098,619.2 1094.7,631.1 1090.4,639.7 1081.7,650.6 1077.4,657.1 1066.6,659.2 1055.8,663.5 1044.9,661.4 1038.4,654.9 1034.1,648.4 1035.2,639.7 1023.3,635.4 1012.5,628.9 1009.2,618.1" fill="none" stroke="rgba(255,215,175,0.55)" stroke-width="1.3" stroke-linejoin="round"/>
<polygon points="861.1,749.9 868.7,743.4 879.5,739 890.3,734.7 901.1,730.4 906.5,730.4 924.9,741.2 942.3,747.7 955.2,758.5 961.7,760.7 959.6,767.2 950.9,771.5 942.3,775.8 933.6,780.2 929.3,784.5 920.6,782.3 911.9,780.2 903.3,778 896.8,781.3 888.1,780.2 881.6,775.8 873,767.2 864.3,758.5" fill="#fd8a4a" stroke="#fd8a4a" stroke-width="0.6" stroke-linejoin="round"/>
<polygon points="861.1,749.9 868.7,743.4 879.5,739 890.3,734.7 901.1,730.4 906.5,730.4 924.9,741.2 942.3,747.7 955.2,758.5 961.7,760.7 959.6,767.2 950.9,771.5 942.3,775.8 933.6,780.2 929.3,784.5 920.6,782.3 911.9,780.2 903.3,778 896.8,781.3 888.1,780.2 881.6,775.8 873,767.2 864.3,758.5" fill="none" stroke="rgba(255,215,175,0.55)" stroke-width="1.3" stroke-linejoin="round"/>
<polygon points="933.6,780.2 942.3,775.8 950.9,771.5 959.6,767.2 968.2,765 976.9,763.9 981.2,769.4 989.9,768.3 1000.7,767.2 1011.5,769.4 1021.3,773.7 1018,784.5 1015.8,791 1007.2,791 998.5,788.8 989.9,791 981.2,795.3 972.6,797.5 961.7,799.7 950.9,801.8 942.3,800.7 935.8,795.3 932.5,788.8" fill="#fd8a4a" stroke="#fd8a4a" stroke-width="0.6" stroke-linejoin="round"/>
<polygon points="933.6,780.2 942.3,775.8 950.9,771.5 959.6,767.2 968.2,765 976.9,763.9 981.2,769.4 989.9,768.3 1000.7,767.2 1011.5,769.4 1021.3,773.7 1018,784.5 1015.8,791 1007.2,791 998.5,788.8 989.9,791 981.2,795.3 972.6,797.5 961.7,799.7 950.9,801.8 942.3,800.7 935.8,795.3 932.5,788.8" fill="none" stroke="rgba(255,215,175,0.55)" stroke-width="1.3" stroke-linejoin="round"/>
<polygon points="812.2,807.6 819.4,806 828.9,807.6 838.4,806 847.9,804.4 857.5,801.6 867,799.7 868.3,793.7 874.9,788.9 882.9,783.5 890.8,779.8 898.7,777.5 906.7,775.9 914.6,775.9 922.5,777.8 930.5,780.6 935.2,787 932.4,796.5 927.6,806 922.9,817.1 919.4,826.7 911.4,823.5 901.9,821.9 892.4,823.5 882.9,822.2 874.9,823.5 867,825.4 860.6,822.2 854.6,818.7 849.5,814.9 838.4,815.6 828.9,816.3 817.8,814.8 812.2,810.8" fill="#fd8a4a" stroke="#fd8a4a" stroke-width="0.6" stroke-linejoin="round"/>
<polygon points="812.2,807.6 819.4,806 828.9,807.6 838.4,806 847.9,804.4 857.5,801.6 867,799.7 868.3,793.7 874.9,788.9 882.9,783.5 890.8,779.8 898.7,777.5 906.7,775.9 914.6,775.9 922.5,777.8 930.5,780.6 935.2,787 932.4,796.5 927.6,806 922.9,817.1 919.4,826.7 911.4,823.5 901.9,821.9 892.4,823.5 882.9,822.2 874.9,823.5 867,825.4 860.6,822.2 854.6,818.7 849.5,814.9 838.4,815.6 828.9,816.3 817.8,814.8 812.2,810.8" fill="none" stroke="rgba(255,215,175,0.55)" stroke-width="1.3" stroke-linejoin="round"/>
<polygon points="935.8,795.3 942.3,800.7 950.9,801.8 961.7,799.7 972.6,797.5 981.2,795.3 989.9,791 998.5,788.8 1007.2,791 1015.8,791 1020.2,797.5 1015.8,806.1 1011.5,814.8 1007.2,825.6 1002.9,836.5 998.5,842.9 989.9,844 981.2,842.9 972.6,842.9 963.9,847.3 955.2,849.4 946.6,849.4 937.9,845.1 929.3,838.6 923.9,834.3 920.6,825.6 924.9,819.1 929.3,810.5 933.6,804" fill="#fd8a4a" stroke="#fd8a4a" stroke-width="0.6" stroke-linejoin="round"/>
<polygon points="935.8,795.3 942.3,800.7 950.9,801.8 961.7,799.7 972.6,797.5 981.2,795.3 989.9,791 998.5,788.8 1007.2,791 1015.8,791 1020.2,797.5 1015.8,806.1 1011.5,814.8 1007.2,825.6 1002.9,836.5 998.5,842.9 989.9,844 981.2,842.9 972.6,842.9 963.9,847.3 955.2,849.4 946.6,849.4 937.9,845.1 929.3,838.6 923.9,834.3 920.6,825.6 924.9,819.1 929.3,810.5 933.6,804" fill="none" stroke="rgba(255,215,175,0.55)" stroke-width="1.3" stroke-linejoin="round"/>
<polygon points="1020.2,797.5 1031,804 1041.8,806.1 1050.5,808.3 1061.3,811.6 1072.1,808.3 1082.9,805.1 1093.8,802.9 1098.1,808.3 1102.4,817 1107.8,827.8 1112.2,838.6 1114.3,849.4 1115.4,860.3 1119.7,868.9 1128.4,870 1134.9,871.1 1133.8,879.7 1126.2,886.2 1119.7,888.4 1117.6,899.2 1113.2,901.4 1102.4,897.1 1089.4,894.9 1076.5,897.1 1063.5,899.2 1050.5,899.2 1037.5,896 1026.7,892.7 1022.3,886.2 1020.2,877.6 1011.5,873.2 1005,866.8 1000.7,858.1 994.2,851.6 989.9,844 998.5,842.9 1002.9,836.5 1007.2,825.6 1011.5,814.8 1015.8,806.1" fill="#fd8a4a" stroke="#fd8a4a" stroke-width="0.6" stroke-linejoin="round"/>
<polygon points="1020.2,797.5 1031,804 1041.8,806.1 1050.5,808.3 1061.3,811.6 1072.1,808.3 1082.9,805.1 1093.8,802.9 1098.1,808.3 1102.4,817 1107.8,827.8 1112.2,838.6 1114.3,849.4 1115.4,860.3 1119.7,868.9 1128.4,870 1134.9,871.1 1133.8,879.7 1126.2,886.2 1119.7,888.4 1117.6,899.2 1113.2,901.4 1102.4,897.1 1089.4,894.9 1076.5,897.1 1063.5,899.2 1050.5,899.2 1037.5,896 1026.7,892.7 1022.3,886.2 1020.2,877.6 1011.5,873.2 1005,866.8 1000.7,858.1 994.2,851.6 989.9,844 998.5,842.9 1002.9,836.5 1007.2,825.6 1011.5,814.8 1015.8,806.1" fill="none" stroke="rgba(255,215,175,0.55)" stroke-width="1.3" stroke-linejoin="round"/>
<polygon points="867,825.4 874.9,823.5 882.9,822.2 892.4,823.5 901.9,821.9 911.4,823.5 919.4,826.7 921,833 914.6,836.2 908.3,839.4 905.1,845.7 898.7,848.9 892.4,852.1 886,855.2 879.7,853.7 874.9,855.2 870.2,850.5 869.4,848.9 870.2,836.2 867,828.3" fill="#fd8a4a" stroke="#fd8a4a" stroke-width="0.6" stroke-linejoin="round"/>
<polygon points="867,825.4 874.9,823.5 882.9,822.2 892.4,823.5 901.9,821.9 911.4,823.5 919.4,826.7 921,833 914.6,836.2 908.3,839.4 905.1,845.7 898.7,848.9 892.4,852.1 886,855.2 879.7,853.7 874.9,855.2 870.2,850.5 869.4,848.9 870.2,836.2 867,828.3" fill="none" stroke="rgba(255,215,175,0.55)" stroke-width="1.3" stroke-linejoin="round"/>
<polygon points="921,833 923.9,834.3 929.3,838.6 937.9,845.1 946.6,849.4 955.2,849.4 961.7,851.6 963,856 961.1,863.8 947.6,860.6 931.7,862.2 912.7,866.2 919,879.7 927,890.8 934.9,900.3 942.9,909.8 950.8,919.4 952.4,924.9 940,915.6 930.5,907.6 921,898.1 913,890.2 905.1,880.6 898.7,871.1 892.4,861.6 887.6,856.8 883.7,861.6 879.7,869.5 878.1,863.2 874.9,855.2 879.7,853.7 886,855.2 892.4,852.1 898.7,848.9 905.1,845.7 908.3,839.4 914.6,836.2" fill="#fd8a4a" stroke="#fd8a4a" stroke-width="0.6" stroke-linejoin="round"/>
<polygon points="921,833 923.9,834.3 929.3,838.6 937.9,845.1 946.6,849.4 955.2,849.4 961.7,851.6 963,856 961.1,863.8 947.6,860.6 931.7,862.2 912.7,866.2 919,879.7 927,890.8 934.9,900.3 942.9,909.8 950.8,919.4 952.4,924.9 940,915.6 930.5,907.6 921,898.1 913,890.2 905.1,880.6 898.7,871.1 892.4,861.6 887.6,856.8 883.7,861.6 879.7,869.5 878.1,863.2 874.9,855.2 879.7,853.7 886,855.2 892.4,852.1 898.7,848.9 905.1,845.7 908.3,839.4 914.6,836.2" fill="none" stroke="rgba(255,215,175,0.55)" stroke-width="1.3" stroke-linejoin="round"/>
<polygon points="1170.2,1094 1178.2,1089.4 1187.5,1088.2 1196.7,1085.9 1205.9,1081.8 1199,1088.2 1194.4,1095.1 1187.5,1099.7 1178.2,1102.1 1171.3,1099.7" fill="#fd8a4a" stroke="#fd8a4a" stroke-width="0.6" stroke-linejoin="round"/>
<polygon points="1170.2,1094 1178.2,1089.4 1187.5,1088.2 1196.7,1085.9 1205.9,1081.8 1199,1088.2 1194.4,1095.1 1187.5,1099.7 1178.2,1102.1 1171.3,1099.7" fill="none" stroke="rgba(255,215,175,0.55)" stroke-width="1.3" stroke-linejoin="round"/>
<polygon points="901.1,662.2 907.6,655.7 918.4,650.3 931.4,644.9 944.4,640.6 955.2,637.3 961.7,638.4 966.1,643.8 972.6,649.2 978,652.5 981.2,651.4 994.2,652.5 1011.5,652.9 1028.8,653.5 1039.7,654.6 1045.1,661.1 1047.2,671.9 1049.4,682.8 1050.5,689.3 1044,695.8 1038.6,701.2 1042.9,706.6 1044,715.2 1045.1,726.1 1049.4,734.7 1049.4,743.4 1045.1,749.9 1037.5,758.5 1031,765 1026.7,771.5 1027.7,779.1 1021.3,773.7 1011.5,769.4 1000.7,767.2 989.9,768.3 981.2,769.4 976.9,763.9 968.2,765 961.7,760.7 955.2,758.5 948.7,752 942.3,747.7 935.8,745.5 929.3,747.7 924.9,741.2 918.4,738 911.9,734.7 906.5,730.4 901.1,723.9 899,715.2 900,706.6 897.9,695.8 894.6,684.9 897.9,676.3 900,668.7" fill="#d50000" stroke="#d50000" stroke-width="0.6" stroke-linejoin="round"/>
<polygon points="901.1,662.2 907.6,655.7 918.4,650.3 931.4,644.9 944.4,640.6 955.2,637.3 961.7,638.4 966.1,643.8 972.6,649.2 978,652.5 981.2,651.4 994.2,652.5 1011.5,652.9 1028.8,653.5 1039.7,654.6 1045.1,661.1 1047.2,671.9 1049.4,682.8 1050.5,689.3 1044,695.8 1038.6,701.2 1042.9,706.6 1044,715.2 1045.1,726.1 1049.4,734.7 1049.4,743.4 1045.1,749.9 1037.5,758.5 1031,765 1026.7,771.5 1027.7,779.1 1021.3,773.7 1011.5,769.4 1000.7,767.2 989.9,768.3 981.2,769.4 976.9,763.9 968.2,765 961.7,760.7 955.2,758.5 948.7,752 942.3,747.7 935.8,745.5 929.3,747.7 924.9,741.2 918.4,738 911.9,734.7 906.5,730.4 901.1,723.9 899,715.2 900,706.6 897.9,695.8 894.6,684.9 897.9,676.3 900,668.7" fill="none" stroke="rgba(255,120,100,0.35)" stroke-width="1.3" stroke-linejoin="round"/>
<polygon points="977.1,988.5 980.1,982.4 984.1,977.4 987.7,972.3 990.2,967.3 992.2,964.2 997.3,963.2 1003.3,961.7 1008.4,959.7 1014.4,959.2 1020.5,957.2 1026.6,956.2 1032.6,955.2 1038.7,953.6 1044.7,953.1 1050.8,955.2 1056.9,956.7 1062.9,958.2 1069,958.7 1074,957.7 1076.6,954.1 1078.1,950.6 1081.1,950.6 1082.1,953.6 1080.6,957.2 1078.1,960.2 1076.6,965.3 1073,967.3 1067,966.3 1060.9,964.2 1055.9,962.7 1050.8,962.7 1045.8,964.2 1040.7,966.3 1037.7,969.3 1035.7,973.3 1032.6,976.4 1028.6,976.4 1024.5,974.3 1022.5,971.3 1021.5,968.3 1018.5,970.3 1016.5,974.3 1016,979.4 1017.5,984.4 1019.5,989.5 1021.5,993.5 1023.5,996.6 1020.5,999.6 1019.5,1002.6 1022.5,1004.6 1026.6,1006.7 1030.6,1009.7 1034.6,1012.2 1038.7,1013.7 1039.7,1016.8 1035.7,1017.8 1034.6,1020.8 1036.7,1023.8 1037.7,1027.9 1035.7,1029.9 1032.6,1026.9 1029.6,1023.8 1026.6,1021.8 1023.5,1019.8 1020.5,1017.8 1017.5,1015.8 1014.4,1014.7 1010.4,1015.3 1007.4,1016.8 1010.4,1018.8 1014.4,1021.8 1018.5,1024.8 1021.5,1027.9 1024.5,1030.9 1025.6,1034.9 1023.5,1037 1020.5,1034.9 1018.5,1037 1019.5,1042 1020.5,1047.1 1019.5,1052.1 1017.5,1050.1 1015.5,1047.1 1013.4,1050.1 1011.4,1053.1 1009.4,1049.1 1007.4,1045.1 1004.3,1044 1001.3,1047.1 999.3,1045.1 998.3,1041 996.8,1037 995.3,1032.9 993.2,1029.9 991.2,1026.9 993.2,1022.8 997.3,1019.8 1000.3,1017.8 996.3,1015.8 992.2,1013.7 990.2,1010.7 988.2,1005.7 985.2,1001.6 982.1,997.6 979.1,993.5" fill="#d50000" stroke="#d50000" stroke-width="0.6" stroke-linejoin="round"/>
<polygon points="970,984.4 971.5,987.5 970.5,989 969.2,987" fill="#d50000" stroke="#d50000" stroke-width="0.6" stroke-linejoin="round"/>
<polygon points="978.1,1016.8 981.1,1015.8 982.6,1018.8 980.1,1020" fill="#d50000" stroke="#d50000" stroke-width="0.6" stroke-linejoin="round"/>
<polygon points="981.6,1025.9 985.2,1026.9 984.1,1029.1 981.9,1028.1" fill="#d50000" stroke="#d50000" stroke-width="0.6" stroke-linejoin="round"/>
<polygon points="1048.8,969.3 1050.8,968.8 1051.3,970.8 1049.3,970.8" fill="#d50000" stroke="#d50000" stroke-width="0.6" stroke-linejoin="round"/>
<polygon points="1055.9,984.4 1059.4,983.9 1059.9,986.5 1056.9,987" fill="#d50000" stroke="#d50000" stroke-width="0.6" stroke-linejoin="round"/>
<polygon points="1063.9,974.3 1066,974.3 1065.5,975.9" fill="#d50000" stroke="#d50000" stroke-width="0.6" stroke-linejoin="round"/>
<polygon points="1069,1000.6 1073,998.6 1077.1,999.6 1079.1,1003.6 1077.1,1006.2 1074,1004.6 1071,1003.1" fill="#d50000" stroke="#d50000" stroke-width="0.6" stroke-linejoin="round"/>
<polygon points="1067.5,1015.8 1071,1015.3 1071.5,1019.8 1069.5,1021.8 1067.5,1019.8" fill="#d50000" stroke="#d50000" stroke-width="0.6" stroke-linejoin="round"/>
<polygon points="1069.5,1034.4 1073,1034.9 1072,1036.5 1069.5,1036" fill="#d50000" stroke="#d50000" stroke-width="0.6" stroke-linejoin="round"/>
<polygon points="1045.3,1005.7 1047.3,1006.7 1046.8,1008.7 1045.3,1007.7" fill="#d50000" stroke="#d50000" stroke-width="0.6" stroke-linejoin="round"/>
<polygon points="1042.2,1022.8 1044.7,1023.8 1044.2,1025.4 1042.2,1024.3" fill="#d50000" stroke="#d50000" stroke-width="0.6" stroke-linejoin="round"/>
<polygon points="1049.8,1027.9 1051.8,1029.4 1050.8,1030.6" fill="#d50000" stroke="#d50000" stroke-width="0.6" stroke-linejoin="round"/>
<polygon points="1052.8,1045.1 1055.9,1045.6 1060.9,1045.1 1060.9,1047.1 1055.9,1047.6 1052.8,1047.1" fill="#d50000" stroke="#d50000" stroke-width="0.6" stroke-linejoin="round"/>
<polygon points="1040.7,1052.1 1043.2,1052.1 1042.7,1054.1 1040.7,1053.6" fill="#d50000" stroke="#d50000" stroke-width="0.6" stroke-linejoin="round"/>
<polygon points="1096.3,1067.3 1100.3,1062.2 1102.3,1062.7 1100.3,1067.3 1096.8,1070.5" fill="#d50000" stroke="#d50000" stroke-width="0.6" stroke-linejoin="round"/>
<polygon points="1017.5,1060.2 1019,1060.2 1018.8,1062.7 1017.5,1062.2" fill="#d50000" stroke="#d50000" stroke-width="0.6" stroke-linejoin="round"/>
<polygon points="1083.1,1047.1 1085.2,1051.1 1084.1,1051.6" fill="#d50000" stroke="#d50000" stroke-width="0.6" stroke-linejoin="round"/>
<polygon points="1089.2,1059.2 1090.7,1061.7 1089.7,1062.2" fill="#d50000" stroke="#d50000" stroke-width="0.6" stroke-linejoin="round"/>
<polygon points="1056.9,1041 1058.9,1042 1057.9,1043" fill="#d50000" stroke="#d50000" stroke-width="0.6" stroke-linejoin="round"/>
<polygon points="1064.9,1050.1 1067,1051.1 1066,1052.1" fill="#d50000" stroke="#d50000" stroke-width="0.6" stroke-linejoin="round"/>
<polygon points="1026.7,1078.4 1029.3,1076.6 1036.2,1078.4 1044.8,1081 1053.5,1082.7 1062.2,1084.4 1070,1086.1 1067.4,1087.9 1058.7,1087.9 1050,1088.7 1043.1,1085.3 1034.5,1082.7 1027.5,1081" fill="#d50000" stroke="#d50000" stroke-width="0.6" stroke-linejoin="round"/>
<polygon points="1026.7,1078.4 1029.3,1076.6 1036.2,1078.4 1044.8,1081 1053.5,1082.7 1062.2,1084.4 1070,1086.1 1067.4,1087.9 1058.7,1087.9 1050,1088.7 1043.1,1085.3 1034.5,1082.7 1027.5,1081" fill="none" stroke="rgba(255,120,100,0.35)" stroke-width="1.3" stroke-linejoin="round"/>
<polyline points="612.6,1065.6 613.2,1089.5 615.2,1112.8" fill="none" stroke="rgba(255,255,255,0.45)" stroke-width="1.2" stroke-linejoin="round"/>
<polyline points="778.5,1039.1 781.9,1063 775.9,1089.5 781.9,1112.8" fill="none" stroke="rgba(255,255,255,0.45)" stroke-width="1.2" stroke-linejoin="round"/>
<polyline points="1122.4,607.4 1147.3,614.9 1164.8,624.9 1169.8,644.8 1174.8,664.8 1187.3,679.8 1179.8,694.8 1189.8,709.7 1209.7,712.2 1219.7,729.7 1229.7,739.7" fill="none" stroke="rgba(255,255,255,0.38)" stroke-width="1.4" stroke-linejoin="round"/>
<polyline points="1065,712.2 1089.9,717.2 1109.9,722.2 1134.9,719.7 1159.8,714.7 1179.8,712.2 1189.8,709.7" fill="none" stroke="rgba(255,255,255,0.38)" stroke-width="1.4" stroke-linejoin="round"/>
<polyline points="1229.7,739.7 1239.7,759.7 1257.2,764.7 1269.7,757.2 1284.6,767.2 1302.1,774.6 1312.1,784.6 1307.1,799.6 1302.1,814.6 1289.6,824.6 1297.1,834.6" fill="none" stroke="rgba(255,255,255,0.38)" stroke-width="1.4" stroke-linejoin="round"/>
<polyline points="1114.9,814.6 1124.9,822.1 1134.9,834.6 1139.9,849.5 1134.9,862" fill="none" stroke="rgba(255,255,255,0.38)" stroke-width="1.2" stroke-linejoin="round"/>
<polyline points="869.9,388.7 872,423.3 875.3,451.4 872,470.9 861.2,481.7 846.1,492.6 835.9,498" fill="none" stroke="rgba(255,250,215,0.5)" stroke-width="1.2" stroke-linejoin="round"/>
<polyline points="749.7,463 765.9,460.4 782.8,457.8 795.8,456.5" fill="none" stroke="rgba(244,247,250,0.42)" stroke-width="2.3" stroke-linejoin="round"/>
<polyline points="751.7,452.6 765.9,450 776.3,447.4" fill="none" stroke="rgba(244,247,250,0.42)" stroke-width="2.3" stroke-linejoin="round"/>
<polyline points="756.9,437.1 768.5,441 778.9,438.4" fill="none" stroke="rgba(244,247,250,0.42)" stroke-width="2.3" stroke-linejoin="round"/>
<polyline points="782.8,413.7 794.5,418.9 807.4,413.7 812.6,409.8" fill="none" stroke="rgba(244,247,250,0.42)" stroke-width="2.3" stroke-linejoin="round"/>
<polyline points="753,483.8 763.3,478.6 773.7,473.4 782.8,469.5" fill="none" stroke="rgba(244,247,250,0.42)" stroke-width="2.3" stroke-linejoin="round"/>
<polyline points="754.3,504.5 765.9,501.9 773.7,496.7" fill="none" stroke="rgba(244,247,250,0.42)" stroke-width="2.3" stroke-linejoin="round"/>
<polyline points="770,421 780,428 790,424" fill="none" stroke="rgba(244,247,250,0.42)" stroke-width="2.3" stroke-linejoin="round"/>
<polyline points="796,400 806,404 818,398" fill="none" stroke="rgba(244,247,250,0.42)" stroke-width="2.3" stroke-linejoin="round"/>
<polyline points="804.9,388 795.2,396.2 786.5,403.8 775.7,412.5 766,423.3 758.4,434.1 753,444.9 750.8,457.9 750.4,470.9 751.3,486.1 753,501.2 756.2,514.2 759.5,523.9 768.1,535.8" fill="none" stroke="rgba(244,247,250,0.3)" stroke-width="9" stroke-linejoin="round"/>
<polyline points="1066.6,557.5 1077.4,558.6 1088.2,566.1 1096.9,574.8 1109.9,574.8 1118.5,572.6" fill="none" stroke="rgba(255,255,255,0.45)" stroke-width="1.3" stroke-linejoin="round"/>
<polyline points="598.5,620.3 607.2,609.9 615.8,599 620.6,591.7" fill="none" stroke="rgba(255,240,160,0.45)" stroke-width="1.2" stroke-linejoin="round"/>
<polyline points="534.7,618.5 543.3,623.9 550.9,631.5 558.5,632.6 565,629.4" fill="none" stroke="rgba(255,240,160,0.45)" stroke-width="1.2" stroke-linejoin="round"/>
<polyline points="782.1,789.4 787.6,794.1 794,798.1 803.5,798.9 808.3,802.9 812.2,807.6 812.2,810.8 817.8,815.2 822.5,823.5 819.4,827.5 816.2,833 809.8,829.8 803.5,836.2 800.3,842.5 794,839.4 787.6,834.6 779.7,837.8 770.2,839.4 763.8,833.3" fill="none" stroke="rgba(255,240,170,0.55)" stroke-width="1.2" stroke-linejoin="round"/>
<polyline points="511.4,913.6 515.8,916.8 526.6,919 537.4,917.9 545,922.3 546.1,928.7 539.6,935.2 536.3,948.2 533.1,961.2 530.9,969.9 527.7,980.7 528.7,991.5 530.9,1000.2 526.6,1006.7 522.3,1013.2 522.3,1017.5" fill="none" stroke="rgba(255,220,180,0.7)" stroke-width="1.3" stroke-linejoin="round"/>
<polyline points="626.1,891.9 634.8,898.4 647.8,903.9 662.9,904.9 673.8,909.3 686.8,913.6 700.8,914.7" fill="none" stroke="rgba(255,220,180,0.6)" stroke-width="1.3" stroke-linejoin="round"/>
</g>
</svg>
<div id="bar"></div>
<div id="avg"></div>
<div class="abs" style="left:94.1px;top:76.2px;font-size:80px;line-height:80px;font-weight:bold;letter-spacing:0.96px;transform:scaleX(0.9694);color:#0f2741;">Prisons</div>
<div class="abs" style="left:402.3px;top:76.2px;font-size:80px;line-height:80px;font-weight:bold;letter-spacing:0.96px;transform:scaleX(1.0);color:#0f2741;">:</div>
<div class="abs" style="left:447.6px;top:76.2px;font-size:80px;line-height:80px;font-weight:bold;letter-spacing:0.96px;transform:scaleX(1.0525);color:#0f2741;">le</div>
<div class="abs" style="left:539.9px;top:76.2px;font-size:80px;line-height:80px;font-weight:bold;letter-spacing:0.96px;transform:scaleX(1.0825);color:#0f2741;">taux</div>
<div class="abs" style="left:741.0px;top:76.2px;font-size:80px;line-height:80px;font-weight:bold;letter-spacing:0.96px;transform:scaleX(1.0383);color:#0f2741;">d’encadrement</div>
<div class="abs" style="left:93.4px;top:165.6px;font-size:80px;line-height:80px;font-weight:bold;letter-spacing:0.96px;transform:scaleX(0.9767);color:#0f2741;">des</div>
<div class="abs" style="left:250.4px;top:165.6px;font-size:80px;line-height:80px;font-weight:bold;letter-spacing:0.96px;transform:scaleX(1.0392);color:#0f2741;">détenus</div>
<div class="abs" style="left:596.0px;top:165.6px;font-size:80px;line-height:80px;font-weight:bold;letter-spacing:0.96px;transform:scaleX(1.057);color:#0f2741;">en</div>
<div class="abs" style="left:718.6px;top:165.6px;font-size:80px;line-height:80px;font-weight:bold;letter-spacing:0.96px;transform:scaleX(0.9905);color:#0f2741;">Europe</div>
<div class="abs" style="left:92.7px;top:274.0px;font-size:43.8px;line-height:43.8px;font-weight:normal;letter-spacing:0.53px;transform:scaleX(1.1007);color:#56687b;">Nombre</div>
<div class="abs" style="left:280.1px;top:274.0px;font-size:43.8px;line-height:43.8px;font-weight:normal;letter-spacing:0.53px;transform:scaleX(1.0828);color:#56687b;">moyen</div>
<div class="abs" style="left:437.2px;top:274.0px;font-size:43.8px;line-height:43.8px;font-weight:normal;letter-spacing:0.53px;transform:scaleX(1.0826);color:#56687b;">de</div>
<div class="abs" style="left:503.5px;top:274.0px;font-size:43.8px;line-height:43.8px;font-weight:normal;letter-spacing:0.53px;transform:scaleX(1.066);color:#56687b;">détenus</div>
<div class="abs" style="left:686.1px;top:274.0px;font-size:43.8px;line-height:43.8px;font-weight:normal;letter-spacing:0.53px;transform:scaleX(1.1198);color:#56687b;">pour</div>
<div class="abs" style="left:797.4px;top:274.0px;font-size:43.8px;line-height:43.8px;font-weight:normal;letter-spacing:0.53px;transform:scaleX(1.1818);color:#56687b;">un</div>
<div class="abs" style="left:866.6px;top:274.0px;font-size:43.8px;line-height:43.8px;font-weight:normal;letter-spacing:0.53px;transform:scaleX(1.0994);color:#56687b;">membre</div>
<div class="abs" style="left:1059.1px;top:274.0px;font-size:43.8px;line-height:43.8px;font-weight:normal;letter-spacing:0.53px;transform:scaleX(1.1067);color:#56687b;">du</div>
<div class="abs" style="left:1127.0px;top:274.0px;font-size:43.8px;line-height:43.8px;font-weight:normal;letter-spacing:0.53px;transform:scaleX(1.089);color:#56687b;">personnel</div>
<div class="abs" style="left:93.2px;top:329.7px;font-size:43.8px;line-height:43.8px;font-weight:normal;letter-spacing:0.53px;transform:scaleX(1.0896);color:#56687b;">pénitentiaire</div>
<div class="abs" style="left:374.6px;top:329.7px;font-size:43.8px;line-height:43.8px;font-weight:normal;letter-spacing:0.53px;transform:scaleX(1.0237);color:#56687b;">dans</div>
<div class="abs" style="left:486.8px;top:329.7px;font-size:43.8px;line-height:43.8px;font-weight:normal;letter-spacing:0.53px;transform:scaleX(0.9925);color:#56687b;">les</div>
<div class="abs" style="left:557.5px;top:329.7px;font-size:43.8px;line-height:43.8px;font-weight:normal;letter-spacing:0.53px;transform:scaleX(1.0122);color:#56687b;">pays</div>
<div class="abs" style="left:665.3px;top:329.7px;font-size:43.8px;line-height:43.8px;font-weight:normal;letter-spacing:0.53px;transform:scaleX(1.0721);color:#56687b;">européens</div>
<div class="abs" style="left:904.5px;top:329.7px;font-size:43.8px;line-height:43.8px;font-weight:normal;letter-spacing:0.53px;transform:scaleX(1.0778);color:#56687b;">en</div>
<div class="abs" style="left:969.8px;top:329.7px;font-size:43.8px;line-height:43.8px;font-weight:normal;letter-spacing:0.53px;transform:scaleX(1.0484);color:#56687b;">2022</div>
<div class="abs" style="left:40.7px;top:495.6px;font-size:33px;line-height:33px;font-weight:normal;letter-spacing:0.63px;transform:scaleX(1.07);color:#2f3b48;">Moyenne des</div>
<div class="abs" style="left:41.7px;top:532.5px;font-size:33px;line-height:33px;font-weight:normal;letter-spacing:0.38px;transform:scaleX(1.07);color:#2f3b48;">pays étudiés</div>
<div class="abs" style="left:122.8px;top:576.2px;font-size:36px;line-height:36px;font-weight:bold;letter-spacing:1.05px;transform:scaleX(1.08);color:#0f2741;">1,5</div>
<div class="abs" style="left:87.8px;top:718.6px;font-size:38px;line-height:38px;font-weight:normal;letter-spacing:0.3px;transform:scaleX(1.04);color:#2f3b48;">&lt; 1,0</div>
<div class="abs" style="left:89.2px;top:771.7px;font-size:38px;line-height:38px;font-weight:normal;letter-spacing:1.38px;transform:scaleX(1.04);color:#2f3b48;">1,0-1,5</div>
<div class="abs" style="left:89.0px;top:824.0px;font-size:38px;line-height:38px;font-weight:normal;letter-spacing:1.6px;transform:scaleX(1.04);color:#2f3b48;">1,6-2,0</div>
<div class="abs" style="left:86.9px;top:877.9px;font-size:38px;line-height:38px;font-weight:normal;letter-spacing:0.5px;transform:scaleX(1.04);color:#2f3b48;">&gt; 2,0</div>
<div class="abs" style="left:39.9px;top:1127.1px;font-size:26.3px;line-height:26.3px;font-weight:normal;letter-spacing:0.58px;transform:scaleX(1.06);color:#56687b;">Sélection : UE-27, Norvège, Suisse et Royaume-Uni</div>
<div class="abs" style="left:40.5px;top:1162.0px;font-size:26.3px;line-height:26.3px;font-weight:normal;letter-spacing:0.89px;transform:scaleX(1.06);color:#56687b;">(données séparées pour Irlande du Nord, Angleterre/Pays de Galles et Écosse)</div>
<div class="abs" style="left:40.6px;top:1205.4px;font-size:26.3px;line-height:26.3px;font-weight:normal;letter-spacing:0.71px;transform:scaleX(1.06);color:#56687b;">Source : Prisons and Prisoners in Europe 2022 - Conseil de l’Europe et UNIL</div>
<div class="sq" style="top:723px;background:#fce570;"></div>
<div class="sq" style="top:775.5px;background:#e8c42f;"></div>
<div class="sq" style="top:828px;background:#fc8b4a;"></div>
<div class="sq" style="top:881px;height:29px;background:#d10000;"></div>
<div class="abs lb" style="left:806.6px;top:453.2px;color:#1f1c12;">0,8</div>
<div class="abs lb" style="left:892.7px;top:484.6px;color:#1f1c12;">0,8</div>
<div class="abs lb" style="left:1065.0px;top:434.8px;color:#1f1c12;">1,2</div>
<div class="abs lb" style="left:1062.3px;top:523.6px;color:#1f1c12;">1,4</div>
<div class="abs lb" style="left:1064.0px;top:575.5px;color:#1f1c12;">1,3</div>
<div class="abs lb" style="left:1040.2px;top:616.5px;color:#1f1c12;">1,7</div>
<div class="abs lb" style="left:952.5px;top:690.0px;color:#fff3f3;">2,5</div>
<div class="abs lb" style="left:580.2px;top:553.2px;color:#1f1c12;">1,4</div>
<div class="abs lb" style="left:515.3px;top:638.7px;color:#1f1c12;">1,0</div>
<div class="abs lb" style="left:586.2px;top:657.1px;color:#1f1c12;">1,4</div>
<div class="abs lb" style="left:624.6px;top:684.2px;color:#1f1c12;">1,4</div>
<div class="abs lb" style="left:753.6px;top:566.5px;color:#13253d;">1,0</div>
<div class="abs lb" style="left:736.9px;top:615.9px;color:#13253d;">1,0</div>
<div class="abs lb" style="left:704.8px;top:675.4px;color:#13253d;">0,8</div>
<div class="abs lb" style="left:705.1px;top:712.2px;color:#1f1c12;">1,4</div>
<div class="abs lb" style="left:803.5px;top:705.7px;color:#1f1c12;">1,4</div>
<div class="abs lb" style="left:673.8px;top:798.0px;color:#1f1c12;">1,7</div>
<div class="abs lb" style="left:766.2px;top:803.3px;color:#1f1c12;">1,4</div>
<div class="abs lb" style="left:801.2px;top:847.3px;color:#1f1c12;">1,4</div>
<div class="abs lb" style="left:879.4px;top:741.2px;color:#1f1c12;">1,7</div>
<div class="abs lb" style="left:948.2px;top:772.2px;color:#1f1c12;">1,7</div>
<div class="abs lb" style="left:879.6px;top:792.0px;color:#1f1c12;">2,0</div>
<div class="abs lb" style="left:951.5px;top:809.0px;color:#1f1c12;">2,0</div>
<div class="abs lb" style="left:867.5px;top:828.3px;color:#1f1c12;">1,5</div>
<div class="abs lb" style="left:914.9px;top:863.6px;color:#13253d;">1,5</div>
<div class="abs lb" style="left:1037.1px;top:836.0px;color:#1f1c12;">1,8</div>
<div class="abs lb" style="left:1038.2px;top:909.2px;color:#1f1c12;">1,4</div>
<div class="abs lb" style="left:458.5px;top:930.6px;color:#13253d;">1,7</div>
<div class="abs lb" style="left:570.5px;top:943.3px;color:#1f1c12;">1,9</div>
<div class="abs lb" style="left:859.7px;top:1075.0px;color:#13253d;">1,3</div>
<div class="abs lb" style="left:976.5px;top:1060.8px;color:#13253d;">2,6</div>
<div class="abs lb" style="left:1123.1px;top:1079.7px;color:#13253d;">2,0</div>
<div style="position:absolute;left:756.4px;top:646px;width:2px;height:101px;background:#465362;"></div>
<div style="position:absolute;left:752.2px;top:745px;width:6.6px;height:6.6px;border:1.9px solid #465362;border-radius:50%;background:#fff;"></div>
<svg style="position:absolute;left:0;top:1270px;" width="1386" height="118" viewBox="0 1270 1386 118">
<g fill="none" stroke="#c4ccd5" stroke-width="5.6">
<circle cx="75" cy="1312" r="30.9"/><circle cx="158.5" cy="1312" r="30.9"/><circle cx="242" cy="1312" r="30.9"/>
</g>
<g fill="#c4ccd5">
<text x="75.5" y="1322.4" font-family="Liberation Sans, sans-serif" font-weight="bold" font-size="29" text-anchor="middle" letter-spacing="-1.2">CC</text>
<circle cx="158.5" cy="1294.3" r="4.9"/>
<path d="M151.4 1301.8h14.2a2 2 0 0 1 2 2v13.8h-3.6v15.8h-11v-15.8h-3.6v-13.8a2 2 0 0 1 2-2z"/>
<rect x="230.3" y="1304.8" width="24.6" height="5"/><rect x="230.3" y="1315.4" width="24.6" height="5"/>
</g>
</svg>
<div id="stat" class="abs" style="left:997px;top:1256.6px;font-weight:bold;font-size:91px;line-height:110px;color:#0f2741;letter-spacing:1.25px;transform:scaleX(0.786);-webkit-text-stroke:2.2px #0f2741;">statista</div>
<svg style="position:absolute;left:1275.9px;top:1277.6px;" width="68" height="68.4" viewBox="0 0 67.8 68.2">
<clipPath id="lg"><rect x="0" y="0" width="67.8" height="68.2" rx="2.6"/></clipPath>
<g clip-path="url(#lg)" fill="#0f2741">
<path d="M0,0H67.8V6.9C45,6.9 40,18 33,26.5C26,36 20,44.7 0,44.7Z"/>
<path d="M0,68.2V61C22,60 30,50 37,39C44,28 50,23.1 67.8,23.1V68.2Z"/>
</g></svg>

</body>
</html>
